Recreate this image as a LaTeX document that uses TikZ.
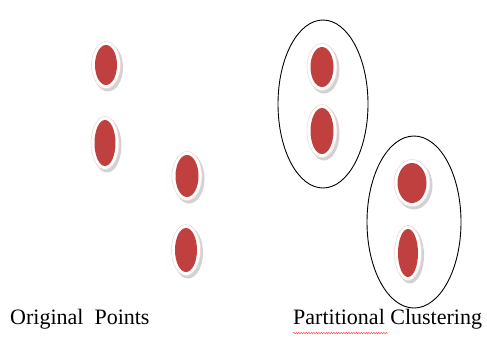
\documentclass[tikz,border=0pt]{standalone}
\usepackage{fontspec}
\setmainfont{Liberation Serif}
\usetikzlibrary{decorations.pathmorphing}
\begin{document}
\begin{tikzpicture}[x=1pt,y=-1pt]
  \definecolor{pt}{HTML}{C0403F}
  \definecolor{sh}{HTML}{D2D2D2}
  \definecolor{rim}{HTML}{F4D6D6}
  \useasboundingbox (0,0) rectangle (487,338);
  % points: x, y, rx, ry
  \foreach \x/\y/\a/\b in {106/65/11/20, 105/143/10.5/23, 187/176/11.5/21, 186/250/11/22,
                          322/67/11.5/20, 322/131/11.5/23, 412/183/14.5/20, 408/253/10/24} {
    \fill[sh] (\x+2,\y+2.5) ellipse [x radius=\a+4, y radius=\b+4];
    \fill[white,draw=rim,line width=0.6pt] (\x,\y) ellipse [x radius=\a+3.5, y radius=\b+3.5];
    \fill[pt] (\x,\y) ellipse [x radius=\a, y radius=\b];
  }
  % clusters
  \draw[line width=0.9pt] (323,104) ellipse [x radius=45, y radius=84];
  \draw[line width=0.9pt] (414,222) ellipse [x radius=47, y radius=86];
  % labels
  \node[anchor=base west,inner sep=0pt,font=\fontsize{22}{26}\selectfont] (orig) at (10,324) {Original\ \ Points};
  \node[anchor=base west,inner sep=0pt,font=\fontsize{22}{26}\selectfont] (part) at (293,324) {Partitional Clustering};
  \draw[red!70,line width=0.5pt,decorate,decoration={snake,amplitude=0.7pt,segment length=2.5pt}]
    ([yshift=-9pt]part.base west) -- ++(95,0);
\end{tikzpicture}
\end{document}
